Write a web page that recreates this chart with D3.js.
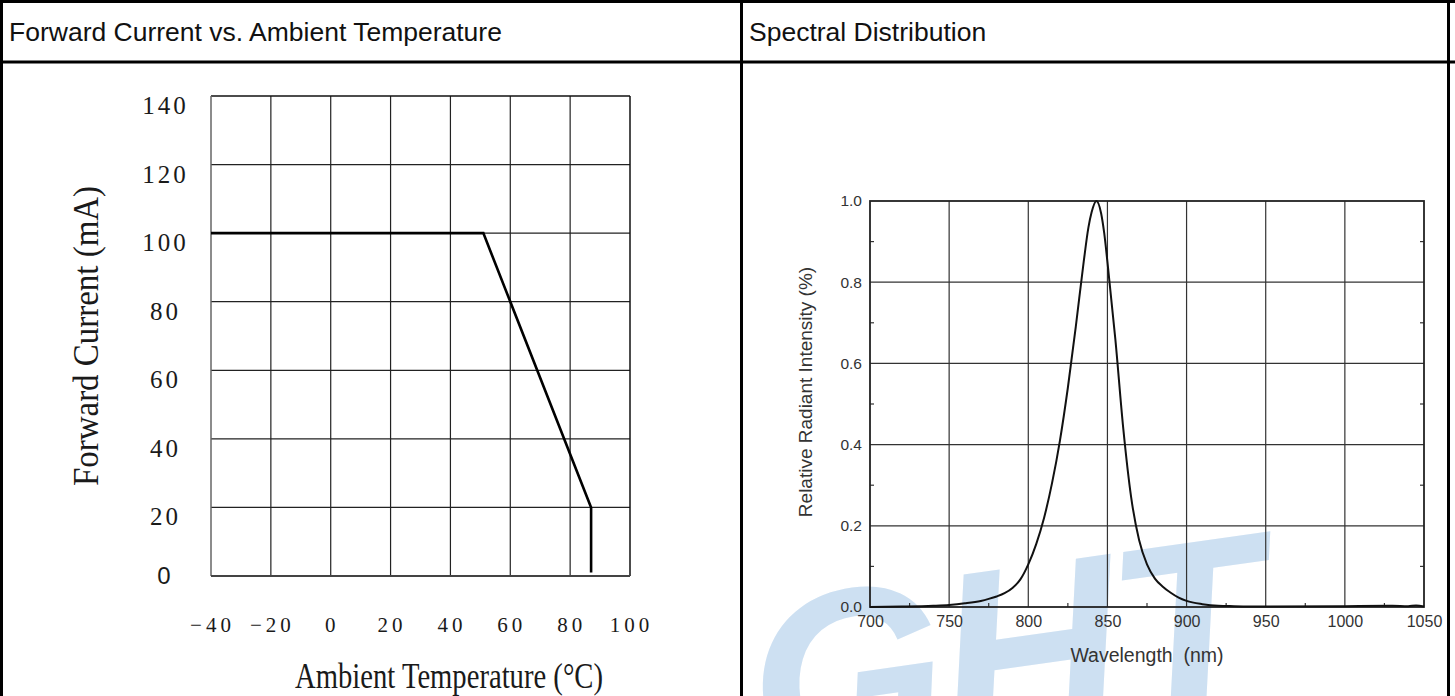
<!DOCTYPE html>
<html>
<head>
<meta charset="utf-8">
<script src="https://cdn.jsdelivr.net/npm/d3@7"></script>
<style>
  html, body { margin: 0; padding: 0; background: #fff; }
  svg { display: block; }
</style>
</head>
<body>
<svg id="chart" width="1455" height="696"></svg>
<script>
// ---------- DATA ----------
const panelTitles = ["Forward Current vs. Ambient Temperature", "Spectral Distribution"];

// Left chart: forward current derating
const tempTicks = [-40, -20, 0, 20, 40, 60, 80, 100];
const currentTicks = [0, 20, 40, 60, 80, 100, 120, 140];
const deratingTemp = [-40, 51, 87, 87];
const deratingCurrent = [100, 100, 20, 1];
const leftXTitle = "Ambient Temperature (°C)";
const leftYTitle = "Forward Current (mA)";

// Right chart: spectral distribution
const wavelengthTicks = [700, 750, 800, 850, 900, 950, 1000, 1050];
const wavelengthMinor = [725, 775, 825, 875, 925, 975, 1025];
const intensityTicks = [0.0, 0.2, 0.4, 0.6, 0.8, 1.0];
const intensityMinor = [0.1, 0.3, 0.5, 0.7, 0.9];
const wavelength = [700, 720, 740, 750, 760, 770, 775, 780, 785, 790, 795, 800, 805, 810, 815, 820, 825, 830, 835, 838, 840, 843, 846, 848, 850, 855, 860, 865, 870, 875, 880, 885, 890, 895, 900, 910, 920, 930, 950, 1000, 1030, 1040, 1045, 1050];
const intensity  = [0.0, 0.001, 0.003, 0.005, 0.009, 0.015, 0.020, 0.026, 0.034, 0.047, 0.068, 0.105, 0.155, 0.22, 0.305, 0.41, 0.54, 0.69, 0.85, 0.935, 0.972, 1.0, 0.97, 0.92, 0.85, 0.66, 0.44, 0.27, 0.165, 0.105, 0.07, 0.05, 0.035, 0.023, 0.015, 0.007, 0.003, 0.002, 0.001, 0.002, 0.003, 0.002, 0.004, 0.001];
const rightXTitle = "Wavelength  (nm)";
const rightYTitle = "Relative Radiant Intensity (%)";

const watermarkText = "GHT";

// ---------- DRAW ----------
const svg = d3.select("#chart");

// watermark (behind everything)
svg.append("text")
  .attr("transform", "translate(762,778) rotate(-8)")
  .attr("font-family", "Liberation Sans, Arial, sans-serif")
  .attr("font-weight", "bold").attr("font-style", "italic")
  .attr("font-size", 252)
  .attr("fill", "#cde0f2")
  .attr("letter-spacing", -6)
  .text(watermarkText);

// table frame
const frame = svg.append("g").attr("stroke", "#000").attr("stroke-width", 3).attr("fill", "none");
frame.append("line").attr("x1", 0).attr("x2", 1455).attr("y1", 1.5).attr("y2", 1.5);
frame.append("line").attr("x1", 0).attr("x2", 1455).attr("y1", 62).attr("y2", 62);
frame.append("line").attr("x1", 1.5).attr("x2", 1.5).attr("y1", 0).attr("y2", 696);
frame.append("line").attr("x1", 741.5).attr("x2", 741.5).attr("y1", 0).attr("y2", 696);
frame.append("line").attr("x1", 1448.5).attr("x2", 1448.5).attr("y1", 0).attr("y2", 696);

svg.selectAll("text.panel-title").data(panelTitles).join("text")
  .attr("class", "panel-title")
  .attr("x", (d, i) => i === 0 ? 9 : 749)
  .attr("y", 41)
  .attr("font-family", "Liberation Sans, Arial, sans-serif")
  .attr("font-size", 26.5)
  .attr("fill", "#111")
  .text(d => d);

// ===== Left chart =====
const lx = d3.scaleLinear().domain([-40, 100]).range([211, 630]);
const ly = d3.scaleLinear().domain([0, 140]).range([576, 96]);
const L = svg.append("g");

// grid
L.append("g").selectAll("line").data(currentTicks.filter(d => d > 0 && d < 140)).join("line")
  .attr("x1", lx(-40)).attr("x2", lx(100))
  .attr("y1", d => ly(d)).attr("y2", d => ly(d))
  .attr("stroke", "#222").attr("stroke-width", 1.2);
L.append("g").selectAll("line").data(tempTicks.filter(d => d > -40 && d < 100)).join("line")
  .attr("x1", d => lx(d)).attr("x2", d => lx(d))
  .attr("y1", ly(0)).attr("y2", ly(140))
  .attr("stroke", "#222").attr("stroke-width", 1.2);
// box
L.append("line").attr("x1", lx(-40)).attr("x2", lx(100)).attr("y1", ly(140)).attr("y2", ly(140)).attr("stroke", "#111").attr("stroke-width", 1.5);
L.append("line").attr("x1", lx(100)).attr("x2", lx(100)).attr("y1", ly(140)).attr("y2", ly(0)).attr("stroke", "#111").attr("stroke-width", 1.5);
L.append("line").attr("x1", lx(-40)).attr("x2", lx(-40)).attr("y1", ly(140)).attr("y2", ly(0)).attr("stroke", "#666").attr("stroke-width", 1.5);
L.append("line").attr("x1", lx(-40)).attr("x2", lx(100)).attr("y1", ly(0)).attr("y2", ly(0)).attr("stroke", "#444").attr("stroke-width", 1.8);

// derating line
const deratingPts = deratingTemp.map((t, i) => [t, deratingCurrent[i]]);
L.append("path").datum(deratingPts)
  .attr("fill", "none").attr("stroke", "#000").attr("stroke-width", 2.6)
  .attr("stroke-linejoin", "miter")
  .attr("d", d3.line().x(d => lx(d[0])).y(d => ly(d[1])));

// y axis labels
const lyAxis = L.append("g").attr("transform", "translate(164,0)")
  .call(d3.axisLeft(ly).tickValues(currentTicks).tickSize(0).tickPadding(0).tickFormat(d3.format("d")));
lyAxis.select(".domain").remove();
lyAxis.selectAll("text")
  .attr("x", 0)
  .attr("text-anchor", "middle")
  .attr("font-family", d => d === 0 ? "Liberation Sans, Arial, sans-serif" : "Liberation Serif, Times New Roman, serif")
  .attr("font-size", d => d === 0 ? 24 : 25)
  .attr("letter-spacing", d => d === 0 ? 0 : 3)
  .attr("dx", d => d === 0 ? 0 : 1.5)
  .attr("dy", d => d === 0 ? "0.3em" : "0.7em")
  .attr("fill", "#1a1a1a");

// x axis labels
const lxAxis = L.append("g").attr("transform", "translate(0,632)")
  .call(d3.axisBottom(lx).tickValues(tempTicks).tickSize(0).tickPadding(0).tickFormat(d3.format("d")));
lxAxis.select(".domain").remove();
lxAxis.selectAll("text")
  .attr("y", 0).attr("dy", 0).attr("dx", 1)
  .attr("font-family", "Liberation Serif, Times New Roman, serif")
  .attr("font-size", 21)
  .attr("letter-spacing", 4)
  .attr("fill", "#1a1a1a");

// axis titles
L.append("text")
  .attr("x", 449).attr("y", 688)
  .attr("text-anchor", "middle")
  .attr("font-family", "Liberation Serif, Times New Roman, serif")
  .attr("font-size", 35)
  .attr("textLength", 308).attr("lengthAdjust", "spacingAndGlyphs")
  .attr("fill", "#1a1a1a")
  .text(leftXTitle);
L.append("text")
  .attr("transform", "translate(98,336) rotate(-90)")
  .attr("text-anchor", "middle")
  .attr("font-family", "Liberation Serif, Times New Roman, serif")
  .attr("font-size", 36)
  .attr("textLength", 300).attr("lengthAdjust", "spacingAndGlyphs")
  .attr("fill", "#1a1a1a")
  .text(leftYTitle);

// ===== Right chart =====
const rx = d3.scaleLinear().domain([700, 1050]).range([870, 1424]);
const ry = d3.scaleLinear().domain([0, 1]).range([607, 201]);
const R = svg.append("g");

R.append("g").selectAll("line").data(wavelengthTicks.filter(d => d > 700 && d < 1050)).join("line")
  .attr("x1", d => rx(d)).attr("x2", d => rx(d))
  .attr("y1", ry(0)).attr("y2", ry(1))
  .attr("stroke", "#333").attr("stroke-width", 1.2);
R.append("g").selectAll("line").data(intensityTicks.filter(d => d > 0 && d < 1)).join("line")
  .attr("x1", rx(700)).attr("x2", rx(1050))
  .attr("y1", d => ry(d)).attr("y2", d => ry(d))
  .attr("stroke", "#333").attr("stroke-width", 1.2);
// minor ticks
R.append("g").selectAll("line").data(wavelengthMinor).join("line")
  .attr("x1", d => rx(d)).attr("x2", d => rx(d))
  .attr("y1", ry(0)).attr("y2", ry(0) - 4)
  .attr("stroke", "#333").attr("stroke-width", 1.2);
R.append("g").selectAll("line").data(intensityMinor).join("line")
  .attr("x1", rx(700)).attr("x2", rx(700) + 4)
  .attr("y1", d => ry(d)).attr("y2", d => ry(d))
  .attr("stroke", "#333").attr("stroke-width", 1.2);
R.append("g").selectAll("line").data(intensityMinor).join("line")
  .attr("x1", rx(1050)).attr("x2", rx(1050) - 4)
  .attr("y1", d => ry(d)).attr("y2", d => ry(d))
  .attr("stroke", "#333").attr("stroke-width", 1.2);
// box
R.append("rect")
  .attr("x", rx(700)).attr("y", ry(1))
  .attr("width", rx(1050) - rx(700)).attr("height", ry(0) - ry(1))
  .attr("fill", "none").attr("stroke", "#222").attr("stroke-width", 1.8);

// spectrum curve
const specPts = wavelength.map((w, i) => [w, intensity[i]]);
R.append("path").datum(specPts)
  .attr("fill", "none").attr("stroke", "#111").attr("stroke-width", 2)
  .attr("d", d3.line().x(d => rx(d[0])).y(d => ry(d[1])).curve(d3.curveMonotoneX));

// axes labels
const ryAxis = R.append("g").attr("transform", `translate(${rx(700)},0)`)
  .call(d3.axisLeft(ry).tickValues(intensityTicks).tickSize(0).tickPadding(8).tickFormat(d3.format(".1f")));
ryAxis.select(".domain").remove();
ryAxis.selectAll("text")
  .attr("font-family", "Liberation Sans, Arial, sans-serif")
  .attr("font-size", 15.5).attr("fill", "#333");

const rxAxis = R.append("g").attr("transform", `translate(0,${ry(0)})`)
  .call(d3.axisBottom(rx).tickValues(wavelengthTicks).tickSize(0).tickPadding(9).tickFormat(d3.format("d")));
rxAxis.select(".domain").remove();
rxAxis.selectAll("text")
  .attr("font-family", "Liberation Sans, Arial, sans-serif")
  .attr("font-size", 16).attr("fill", "#333");

R.append("text")
  .attr("x", (rx(700) + rx(1050)) / 2).attr("y", 662)
  .attr("text-anchor", "middle")
  .attr("font-family", "Liberation Sans, Arial, sans-serif")
  .attr("font-size", 19.5).attr("fill", "#333")
  .style("white-space", "pre")
  .text(rightXTitle);
R.append("text")
  .attr("transform", `translate(812,${(ry(0) + ry(1)) / 2 - 12}) rotate(-90)`)
  .attr("text-anchor", "middle")
  .attr("font-family", "Liberation Sans, Arial, sans-serif")
  .attr("font-size", 19).attr("fill", "#333")
  .text(rightYTitle);
</script>
</body>
</html>
